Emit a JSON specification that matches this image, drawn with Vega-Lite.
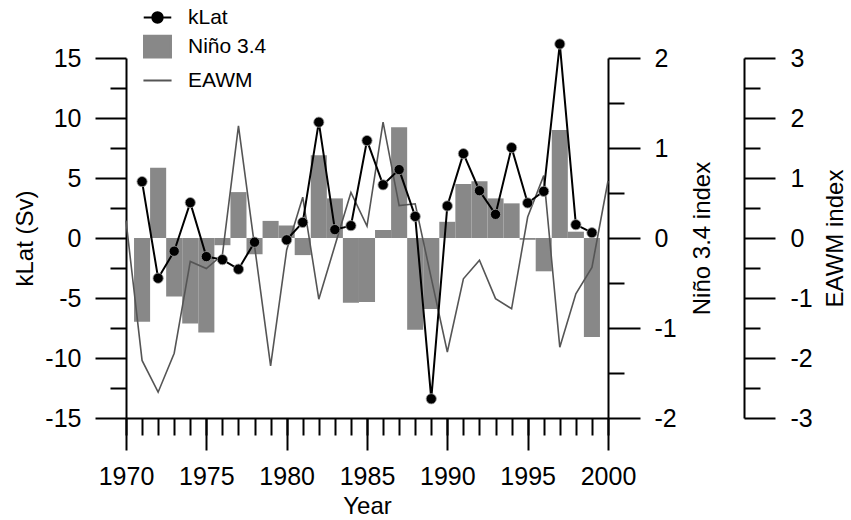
{
  "$schema": "https://vega.github.io/schema/vega-lite/v6.json",
  "width": 482,
  "height": 360,
  "autosize": "none",
  "padding": {"left": 126, "top": 58, "right": 243, "bottom": 102},
  "background": "white",
  "config": {
    "view": {"stroke": null},
    "axis": {
      "grid": false,
      "domainColor": "black",
      "domainWidth": 2,
      "tickColor": "black",
      "tickWidth": 2,
      "labelFont": "Liberation Sans",
      "labelFontSize": 25,
      "labelColor": "black",
      "labelPadding": 14,
      "labelFlush": false,
      "labelOverlap": false,
      "titleFont": "Liberation Sans",
      "titleFontSize": 24,
      "titleFontWeight": "normal",
      "titleColor": "black",
      "labelExpr": "'' + datum.value"
    },
    "legend": {
      "labelFont": "Liberation Sans",
      "labelFontSize": 21,
      "labelColor": "black"
    }
  },
  "data": {
    "values": [
      {"year": 1970, "kLat": null, "nino": null, "eawm": 0.29},
      {"year": 1971, "kLat": 4.7, "nino": -0.93, "eawm": -2.04},
      {"year": 1972, "kLat": -3.35, "nino": 0.78, "eawm": -2.57},
      {"year": 1973, "kLat": -1.1, "nino": -0.65, "eawm": -1.92},
      {"year": 1974, "kLat": 2.95, "nino": -0.95, "eawm": -0.39},
      {"year": 1975, "kLat": -1.55, "nino": -1.05, "eawm": -0.51},
      {"year": 1976, "kLat": -1.8, "nino": -0.08, "eawm": -0.28},
      {"year": 1977, "kLat": -2.6, "nino": 0.51, "eawm": 1.87},
      {"year": 1978, "kLat": -0.35, "nino": -0.18, "eawm": -0.13},
      {"year": 1979, "kLat": null, "nino": 0.19, "eawm": -2.13},
      {"year": 1980, "kLat": -0.15, "nino": 0.14, "eawm": -0.2},
      {"year": 1981, "kLat": 1.3, "nino": -0.19, "eawm": 0.68},
      {"year": 1982, "kLat": 9.65, "nino": 0.92, "eawm": -1.02},
      {"year": 1983, "kLat": 0.7, "nino": 0.44, "eawm": -0.13},
      {"year": 1984, "kLat": 1.03, "nino": -0.72, "eawm": 0.76},
      {"year": 1985, "kLat": 8.12, "nino": -0.71, "eawm": 0.2},
      {"year": 1986, "kLat": 4.43, "nino": 0.09, "eawm": 1.93},
      {"year": 1987, "kLat": 5.7, "nino": 1.23, "eawm": 0.54},
      {"year": 1988, "kLat": 1.8, "nino": -1.02, "eawm": 0.57},
      {"year": 1989, "kLat": -13.4, "nino": -0.79, "eawm": -0.67},
      {"year": 1990, "kLat": 2.67, "nino": 0.18, "eawm": -1.9},
      {"year": 1991, "kLat": 7.03, "nino": 0.6, "eawm": -0.68},
      {"year": 1992, "kLat": 3.94, "nino": 0.63, "eawm": -0.37},
      {"year": 1993, "kLat": 1.97, "nino": 0.44, "eawm": -1.01},
      {"year": 1994, "kLat": 7.53, "nino": 0.385, "eawm": -1.18},
      {"year": 1995, "kLat": 2.92, "nino": -0.02, "eawm": 0.35},
      {"year": 1996, "kLat": 3.89, "nino": -0.37, "eawm": 1.04},
      {"year": 1997, "kLat": 16.17, "nino": 1.2, "eawm": -1.82},
      {"year": 1998, "kLat": 1.11, "nino": 0.07, "eawm": -0.93},
      {"year": 1999, "kLat": 0.44, "nino": -1.1, "eawm": -0.49},
      {"year": 2000, "kLat": null, "nino": null, "eawm": 0.95}
    ]
  },
  "layer": [
    {
      "mark": {"type": "bar", "orient": "vertical", "width": 16.07, "color": "#888888"},
      "encoding": {
        "x": {"field": "year", "type": "quantitative", "scale": {"domain": [1970, 2000], "nice": false, "zero": false, "padding": 0},
          "axis": {"orient": "bottom", "values": [1970, 1975, 1980, 1985, 1990, 1995, 2000], "tickSize": 32, "labelPadding": 14, "title": "Year", "titleBaseline": "alphabetic", "titleY": 95}},
        "y": {"field": "nino", "type": "quantitative", "stack": null, "scale": {"domain": [-2, 2], "nice": false},
          "axis": {"orient": "right", "values": [-2, -1, 0, 1, 2], "tickSize": 32, "labelPadding": 14, "title": "Niño 3.4 index", "titleAngle": 270, "titleX": 94, "titleY": 180, "titleAlign": "center", "titleBaseline": "middle"}}
      }
    },
    {
      "mark": {"type": "point", "opacity": 0},
      "encoding": {
        "x": {"field": "year", "type": "quantitative",
          "axis": {"orient": "bottom", "values": [1970, 1971, 1972, 1973, 1974, 1975, 1976, 1977, 1978, 1979, 1980, 1981, 1982, 1983, 1984, 1985, 1986, 1987, 1988, 1989, 1990, 1991, 1992, 1993, 1994, 1995, 1996, 1997, 1998, 1999, 2000], "tickSize": 17, "labels": false, "domain": false, "title": null}},
        "y": {"field": "nino", "type": "quantitative", "scale": {"domain": [-2, 2], "nice": false},
          "axis": {"orient": "right", "values": [-1.5, -0.5, 0.5, 1.5], "tickSize": 16, "labels": false, "domain": false, "title": null}}
      }
    },
    {
      "mark": {"type": "line", "color": "#555555", "strokeWidth": 1.6},
      "encoding": {
        "x": {"field": "year", "type": "quantitative", "axis": null},
        "y": {"field": "eawm", "type": "quantitative", "scale": {"domain": [-3, 3], "nice": false},
          "axis": {"orient": "right", "offset": 136, "values": [-3, -2, -1, 0, 1, 2, 3], "tickSize": 31, "labelPadding": 15, "title": "EAWM index", "titleAngle": 270, "titleX": 91, "titleY": 180, "titleAlign": "center", "titleBaseline": "middle"}}
      }
    },
    {
      "mark": {"type": "point", "opacity": 0},
      "encoding": {
        "x": {"field": "year", "type": "quantitative", "axis": null},
        "y": {"field": "eawm", "type": "quantitative", "scale": {"domain": [-3, 3], "nice": false},
          "axis": {"orient": "right", "offset": 136, "values": [-2.5, -1.5, -0.5, 0.5, 1.5, 2.5], "tickSize": 16, "labels": false, "domain": false, "title": null}}
      }
    },
    {
      "mark": {"type": "line", "color": "black", "strokeWidth": 2, "invalid": "break-paths-show-domains"},
      "encoding": {
        "x": {"field": "year", "type": "quantitative", "axis": null},
        "y": {"field": "kLat", "type": "quantitative", "scale": {"domain": [-15, 15], "nice": false},
          "axis": {"orient": "left", "values": [-15, -10, -5, 0, 5, 10, 15], "tickSize": 31, "labelPadding": 14, "title": "kLat (Sv)", "titleAngle": 270, "titleX": -101, "titleY": 180, "titleAlign": "center", "titleBaseline": "middle"}}
      }
    },
    {
      "mark": {"type": "point", "filled": true, "color": "black", "size": 105, "stroke": "#a0a0a0", "strokeWidth": 0.8, "opacity": 1},
      "encoding": {
        "x": {"field": "year", "type": "quantitative", "axis": null},
        "y": {"field": "kLat", "type": "quantitative", "scale": {"domain": [-15, 15], "nice": false},
          "axis": {"orient": "left", "values": [-12.5, -7.5, -2.5, 2.5, 7.5, 12.5], "tickSize": 16, "labels": false, "domain": false, "title": null}}
      }
    },
    {
      "mark": {"type": "point", "filled": true, "opacity": 0},
      "encoding": {
        "x": {"field": "year", "type": "quantitative", "axis": null},
        "y": {"field": "kLat", "type": "quantitative", "scale": {"domain": [-15, 15], "nice": false}, "axis": null},
        "fill": {"datum": "kLat", "type": "nominal",
          "scale": {"domain": ["kLat", "Niño 3.4", "EAWM"], "range": ["black", "#888888", "transparent"]},
          "legend": {"title": null, "orient": "none", "legendX": 16, "legendY": -56, "padding": 0, "symbolSize": 841, "symbolStrokeWidth": 2, "symbolOpacity": 1, "labelOffset": 15, "rowPadding": 3, "labelFontSize": 21}},
        "stroke": {"datum": "kLat", "type": "nominal",
          "scale": {"domain": ["kLat", "Niño 3.4", "EAWM"], "range": ["black", "#888888", "#555555"]},
          "legend": {"title": null, "orient": "none", "legendX": 16, "legendY": -56, "padding": 0, "symbolSize": 841, "symbolStrokeWidth": 2, "symbolOpacity": 1, "labelOffset": 15, "rowPadding": 3, "labelFontSize": 21}},
        "shape": {"datum": "kLat", "type": "nominal",
          "scale": {"domain": ["kLat", "Niño 3.4", "EAWM"], "range": ["M-0.95,0H0.95M-0.36,0A0.36,0.36,0,1,0,0.36,0A0.36,0.36,0,1,0,-0.36,0Z", "M-0.93,-0.75H0.93V0.75H-0.93Z", "M-0.97,0H0.97"]},
          "legend": {"title": null, "orient": "none", "legendX": 16, "legendY": -56, "padding": 0, "symbolSize": 841, "symbolStrokeWidth": 2, "symbolOpacity": 1, "labelOffset": 15, "rowPadding": 3, "labelFontSize": 21}}
      }
    }
  ],
  "resolve": {
    "scale": {"y": "independent"},
    "axis": {"x": "independent", "y": "independent"}
  }
}
